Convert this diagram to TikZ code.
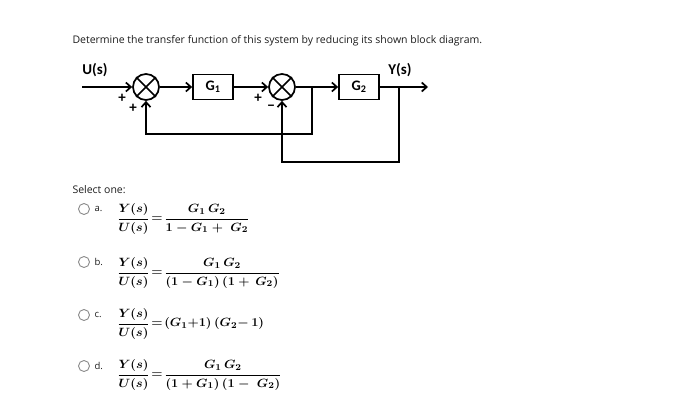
\documentclass[tikz,border=0pt]{standalone}
\usepackage{amsmath}
\usepackage{fontspec}
\setmainfont{Carlito}
\newfontfamily\qfont{Open Sans}
\usetikzlibrary{arrows.meta}
\definecolor{txt}{HTML}{1E1E1E}
\definecolor{rad}{HTML}{8A8A8A}
\begin{document}
\begin{tikzpicture}[x=1pt,y=-1pt,
  blk/.style={draw, line width=1.7pt, minimum width=40pt, minimum height=25pt, inner sep=0pt, font=\bfseries\fontsize{14.5}{16}\selectfont},
  sumj/.style={draw, circle, line width=1.7pt, minimum size=26pt, inner sep=0pt},
  conn/.style={line width=1.7pt, -{Straight Barb[length=5pt,width=9pt,line width=1.7pt]}},
  lbl/.style={font=\bfseries\fontsize{15}{17}\selectfont},
  sgn/.style={font=\bfseries\fontsize{15}{17}\selectfont, inner sep=0pt},
  qtext/.style={anchor=west, text=txt, font=\qfont\fontsize{10.5}{12}\selectfont},
  radio/.style={draw=rad, circle, line width=0.9pt, minimum size=11pt, inner sep=0pt},
  optl/.style={anchor=west, text=txt, font=\qfont\fontsize{9.5}{11}\selectfont},
  eq/.style={anchor=west, inner sep=0pt, font=\fontsize{13.2}{15}\selectfont\boldmath}]
\useasboundingbox (0,0) rectangle (700,412);
\fill[white] (0,0) rectangle (700,412);

\node[qtext] (q) at (69,41) {Determine the transfer function of this system by reducing its shown block diagram.};

% block diagram
\node[lbl] (u) at (95,70) {U(s)};
\node[lbl] (y) at (400,70) {Y(s)};
\coordinate (in) at (82,87);
\node[sumj] (s1) at (146,87) {};
\draw[line width=1.7pt] (s1.north west) -- (s1.south east) (s1.north east) -- (s1.south west);
\node[blk] (g1) at (213,87) {G\textsubscript{1}};
\node[sumj] (s2) at (282,87) {};
\draw[line width=1.7pt] (s2.north west) -- (s2.south east) (s2.north east) -- (s2.south west);
\node[blk] (g2) at (359,87) {G\textsubscript{2}};
\coordinate (b1) at (312,87);
\coordinate (b2) at (399,87);
\coordinate (out) at (428,87);
\coordinate (f1) at (312,134);
\coordinate (f2) at (399,162);
\draw[conn] (in) -- (s1);
\draw[conn] (s1) -- (g1);
\draw[conn] (g1) -- (s2);
\draw[conn] (s2) -- (g2);
\draw[conn] (g2) -- (out);
\draw[conn] (b1) -- (f1) -| (s1.south);
\draw[conn] (b2) -- (f2) -| (s2.south);
\node[sgn] (p1) at (122,98) {+};
\node[sgn] (p2) at (133,108) {+};
\node[sgn] (p3) at (258,98) {+};
\node[sgn] (m1) at (271,108) {\textminus};

% options
\node[qtext] (sel) at (69,190) {Select one:};

\node[radio] (ra) at (84,209) {};
\node[optl] (la) at (91,209) {a.};
\node[eq, xscale=1.07, transform shape] (ea) at (117,219) {$\dfrac{Y(s)}{U(s)}\!=\!\dfrac{G_1\,G_2}{1-G_1+\;G_2}$};

\node[radio] (rb) at (84,262) {};
\node[optl] (lb) at (91,262) {b.};
\node[eq, xscale=1.07, transform shape] (eb) at (117,273) {$\dfrac{Y(s)}{U(s)}\!=\!\dfrac{G_1\,G_2}{(1-G_1)\,(1+\,G_2)}$};

\node[radio] (rc) at (84,315) {};
\node[optl] (lc) at (91,315) {c.};
\node[eq, xscale=1.07, transform shape] (ec) at (117,324) {$\dfrac{Y(s)}{U(s)}\!=\!(G_1{+}1)\,(G_2{-}\,1)$};

\node[radio] (rd) at (84,366) {};
\node[optl] (ld) at (91,366) {d.};
\node[eq, xscale=1.07, transform shape] (ed) at (117,375) {$\dfrac{Y(s)}{U(s)}\!=\!\dfrac{G_1\,G_2}{(1+G_1)\,(1-\;G_2)}$};
\end{tikzpicture}
\end{document}
